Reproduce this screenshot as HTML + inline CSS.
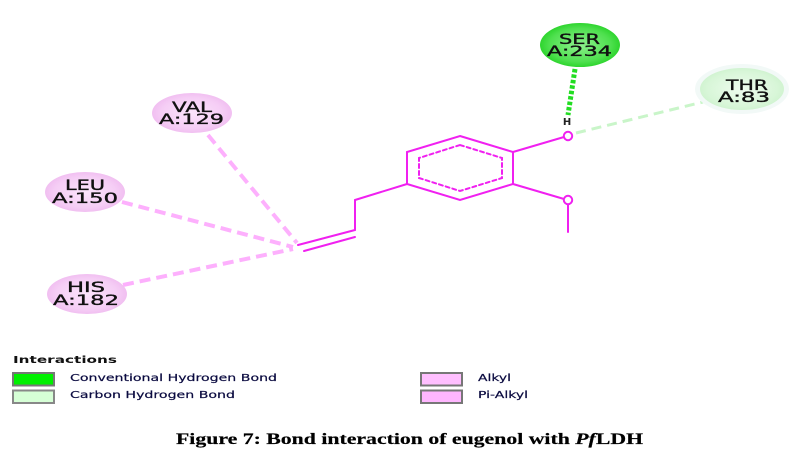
<!DOCTYPE html>
<html>
<head>
<meta charset="utf-8">
<style>
  html,body{margin:0;padding:0;background:#fff;}
  body{width:797px;height:471px;overflow:hidden;}
  svg{display:block;}
  .lbl{font-family:"DejaVu Sans","Liberation Sans",sans-serif;font-size:14px;fill:#111;stroke:#111;stroke-width:0.35px;}
  .lg{font-family:"DejaVu Sans","Liberation Sans",sans-serif;font-size:10px;fill:#0b0b40;stroke:#0b0b40;stroke-width:0.2px;}
</style>
</head>
<body>
<svg width="797" height="471" viewBox="0 0 797 471" xmlns="http://www.w3.org/2000/svg">
  <defs>
    <radialGradient id="gSer" cx="50%" cy="50%" r="55%">
      <stop offset="0" stop-color="#8ef08e"/>
      <stop offset="0.7" stop-color="#4ee04e"/>
      <stop offset="1" stop-color="#20d020"/>
    </radialGradient>
    <radialGradient id="gThr" cx="50%" cy="50%" r="55%">
      <stop offset="0" stop-color="#eefcee"/>
      <stop offset="0.75" stop-color="#d8f6d8"/>
      <stop offset="1" stop-color="#cdf2cd"/>
    </radialGradient>
    <radialGradient id="gPink" cx="50%" cy="50%" r="55%">
      <stop offset="0" stop-color="#fbe4fb"/>
      <stop offset="0.7" stop-color="#f5cdf5"/>
      <stop offset="1" stop-color="#efb9ef"/>
    </radialGradient>
  </defs>

  <!-- pink dashed interaction lines -->
  <g stroke="#fdb0fd" stroke-width="4" stroke-dasharray="11 6" fill="none">
    <line x1="208" y1="135" x2="297" y2="243"/>
    <line x1="122" y1="202" x2="293" y2="247"/>
    <line x1="123" y1="285" x2="293" y2="249"/>
  </g>

  <!-- light green dashed to THR -->
  <line x1="576" y1="133" x2="703" y2="102" stroke="#c9f5c9" stroke-width="3" stroke-dasharray="10 6"/>

  <!-- green dotted H-bond to SER -->
  <line x1="575" y1="69" x2="568" y2="115" stroke="#22dd22" stroke-width="5" stroke-dasharray="3.5 2"/>

  <!-- molecule -->
  <g stroke="#f020f0" stroke-width="2" fill="none" stroke-linecap="round">
    <polygon points="460,136 513,152 513,184 460,200 407,184 407,152"/>
    <polygon points="460,145 502,158 502,178 460,191 419,178 419,158" stroke-dasharray="4 3"/>
    <line x1="513" y1="152" x2="564" y2="137"/>
    <line x1="513" y1="184" x2="564" y2="199"/>
    <line x1="568" y1="204" x2="568" y2="232"/>
    <line x1="407" y1="184" x2="355" y2="200"/>
    <line x1="355" y1="200" x2="355" y2="230"/>
    <line x1="355" y1="230" x2="298" y2="245"/>
    <line x1="355" y1="237" x2="304" y2="251"/>
    <circle cx="568" cy="136" r="4.2" fill="#fff"/>
    <circle cx="568" cy="200" r="4.2" fill="#fff"/>
  </g>
  <text x="567" y="125" text-anchor="middle" font-family="DejaVu Sans, sans-serif" font-size="10" font-weight="bold" fill="#222">H</text>

  <!-- residue ellipses -->
  <ellipse cx="580" cy="45" rx="40" ry="22" fill="url(#gSer)"/>
  <text class="lbl" x="559" y="44" textLength="41" lengthAdjust="spacingAndGlyphs">SER</text>
  <text class="lbl" x="547" y="56" textLength="65" lengthAdjust="spacingAndGlyphs">A:234</text>

  <ellipse cx="742" cy="89" rx="47" ry="25" fill="#f2f9f7"/>
  <ellipse cx="742" cy="89" rx="42" ry="21" fill="url(#gThr)"/>
  <text class="lbl" x="726" y="90" textLength="42" lengthAdjust="spacingAndGlyphs">THR</text>
  <text class="lbl" x="718" y="102" textLength="52" lengthAdjust="spacingAndGlyphs">A:83</text>

  <ellipse cx="192" cy="113" rx="40" ry="20" fill="url(#gPink)"/>
  <text class="lbl" x="172" y="112" textLength="40" lengthAdjust="spacingAndGlyphs">VAL</text>
  <text class="lbl" x="159" y="124" textLength="65" lengthAdjust="spacingAndGlyphs">A:129</text>

  <ellipse cx="85" cy="192" rx="40" ry="20" fill="url(#gPink)"/>
  <text class="lbl" x="65" y="190" textLength="40" lengthAdjust="spacingAndGlyphs">LEU</text>
  <text class="lbl" x="52" y="203" textLength="66" lengthAdjust="spacingAndGlyphs">A:150</text>

  <ellipse cx="87" cy="294" rx="40" ry="20" fill="url(#gPink)"/>
  <text class="lbl" x="67" y="292" textLength="38" lengthAdjust="spacingAndGlyphs">HIS</text>
  <text class="lbl" x="53" y="305" textLength="66" lengthAdjust="spacingAndGlyphs">A:182</text>

  <!-- legend -->
  <text x="13" y="363" font-family="DejaVu Sans, sans-serif" font-size="10" font-weight="bold" fill="#111" textLength="104" lengthAdjust="spacingAndGlyphs">Interactions</text>
  <rect x="13" y="373" width="41" height="12.5" fill="#00f000" stroke="#777" stroke-width="2"/>
  <rect x="13" y="390.5" width="41" height="12.5" fill="#d6ffd6" stroke="#888" stroke-width="2"/>
  <text class="lg" x="70" y="381" textLength="207" lengthAdjust="spacingAndGlyphs">Conventional Hydrogen Bond</text>
  <text class="lg" x="70" y="398" textLength="165" lengthAdjust="spacingAndGlyphs">Carbon Hydrogen Bond</text>

  <rect x="421" y="373" width="41" height="12.5" fill="#ffbfff" stroke="#777" stroke-width="2"/>
  <rect x="421" y="390.5" width="41" height="12.5" fill="#ffb6ff" stroke="#777" stroke-width="2"/>
  <text class="lg" x="478" y="381" textLength="33" lengthAdjust="spacingAndGlyphs">Alkyl</text>
  <text class="lg" x="478" y="398" textLength="50" lengthAdjust="spacingAndGlyphs">Pi-Alkyl</text>

  <!-- caption -->
  <text x="176" y="444" font-family="Liberation Serif, serif" font-size="16" font-weight="bold" fill="#000" stroke="#000" stroke-width="0.2" textLength="467" lengthAdjust="spacingAndGlyphs">Figure 7: Bond interaction of eugenol with <tspan font-style="italic">Pf</tspan>LDH</text>
</svg>
</body>
</html>
